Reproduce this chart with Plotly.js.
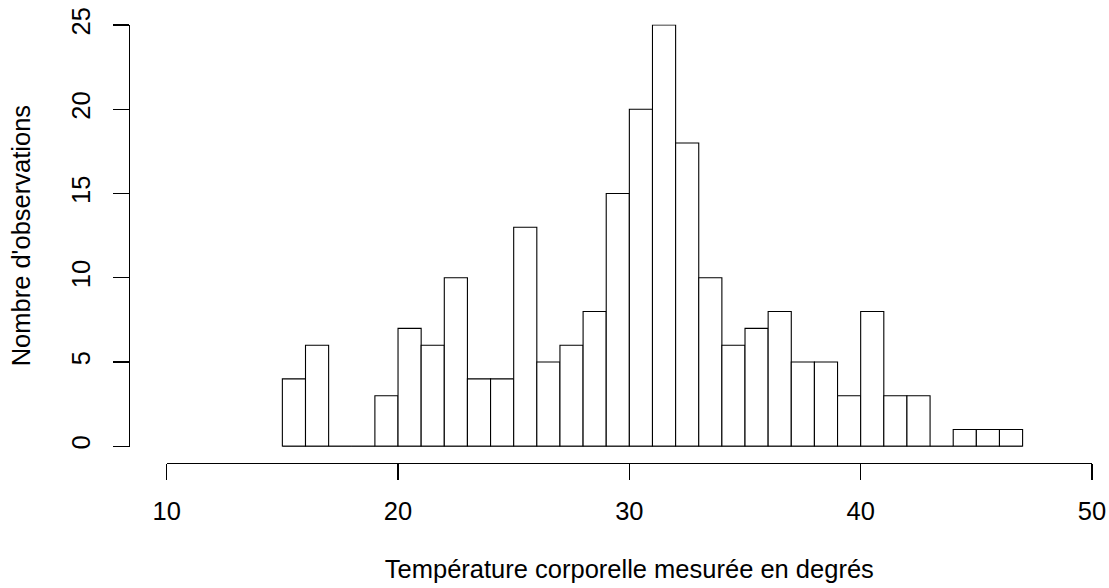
<!DOCTYPE html>
<html>
<head>
<meta charset="utf-8">
<script src="https://cdn.plot.ly/plotly-3.0.1.min.js"></script>
<style>html,body{margin:0;padding:0;background:#fff;}#chart{width:1109px;height:588px;}</style>
</head>
<body>
<div id="chart"></div>
<script>
// Histogram data: bins of width 1 starting at 15
const binStart = 15;
const binWidth = 1;
const counts = [4, 6, 0, 0, 3, 7, 6, 10, 4, 4, 13, 5, 6, 8, 15, 20, 25, 18, 10, 6, 7, 8, 5, 5, 3, 8, 3, 3, 0, 1, 1, 1];
const xTickVals = [10, 20, 30, 40, 50];
const yTickVals = [0, 5, 10, 15, 20, 25];
const xTitle = "Température corporelle mesurée en degrés";
const yTitle = "Nombre d'observations";

const centers = counts.map((c, i) => binStart + binWidth * i + binWidth / 2);
const binEnd = binStart + binWidth * counts.length;

const W = 1109, H = 588;
const font = {family: "Liberation Sans, Arial, sans-serif", size: 25.5, color: "#000"};

const traces = [
  {
    type: "bar",
    x: centers,
    y: counts,
    width: binWidth,
    marker: {color: "#ffffff", line: {color: "#000000", width: 1.1}},
    hoverinfo: "x+y",
    showlegend: false
  },
  {
    type: "scatter",
    mode: "lines",
    x: [binStart, binEnd],
    y: [0, 0],
    line: {color: "#000000", width: 1.1},
    hoverinfo: "skip",
    showlegend: false
  }
];

const layout = {
  width: W, height: H,
  autosize: false,
  margin: {l: 0, r: 0, t: 0, b: 0, pad: 0},
  paper_bgcolor: "#ffffff",
  plot_bgcolor: "#ffffff",
  font: font,
  showlegend: false,
  bargap: 0,
  xaxis: {
    domain: [166.7 / W, 1092 / W],
    range: [10, 50],
    anchor: "free",
    position: 1 - 463.3 / H,
    showline: true, linecolor: "#000", linewidth: 1.1,
    showgrid: false, zeroline: false,
    ticks: "outside", ticklen: 16, tickwidth: 1.1, tickcolor: "#000",
    tickvals: xTickVals,
    ticktext: xTickVals.map(String),
    tickfont: font,
    ticklabelstandoff: 9,
    title: {text: xTitle, font: font, standoff: 36},
    automargin: false
  },
  yaxis: {
    domain: [1 - 446.8 / H, 1 - 24.5 / H],
    range: [-0.03, 25.03],
    anchor: "free",
    position: 129.3 / W,
    showline: true, linecolor: "#000", linewidth: 1.1,
    showgrid: false, zeroline: false,
    ticks: "outside", ticklen: 16, tickwidth: 1.1, tickcolor: "#000",
    tickvals: yTickVals,
    ticktext: yTickVals.map(String),
    tickangle: -90,
    tickfont: font,
    ticklabelstandoff: 13,
    title: {text: yTitle, font: font, standoff: 28},
    automargin: false
  }
};

Plotly.newPlot("chart", traces, layout, {displayModeBar: false, staticPlot: true});
</script>
</body>
</html>
